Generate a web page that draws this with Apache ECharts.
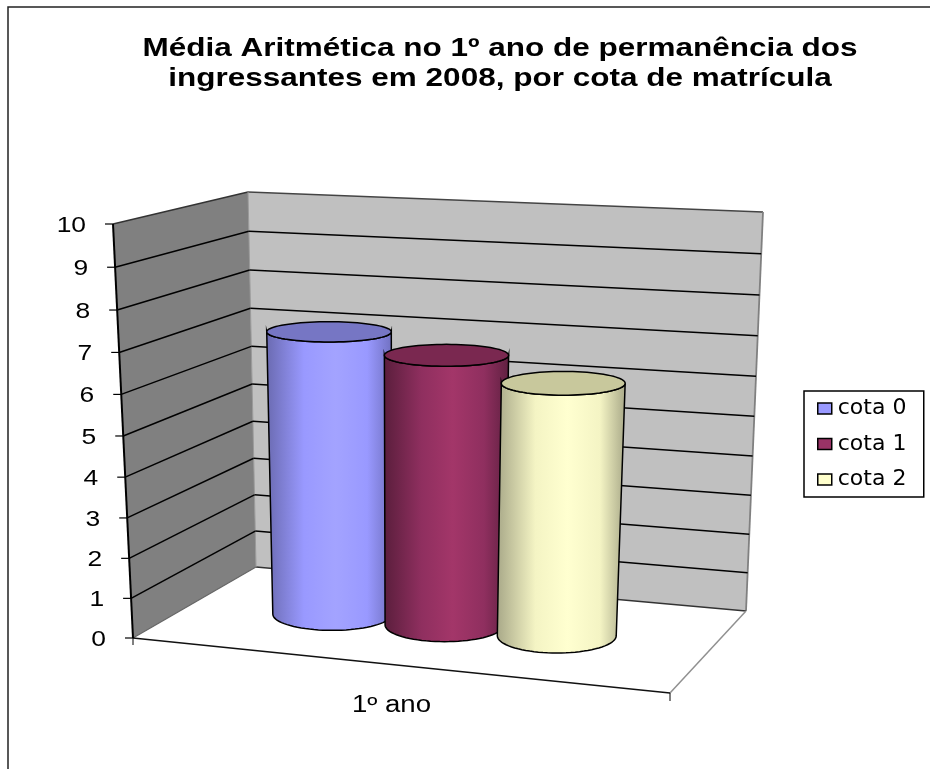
<!DOCTYPE html>
<html>
<head>
<meta charset="utf-8">
<style>html,body{margin:0;padding:0;background:#fff}#c{width:930px;height:769px}</style>
<script src="https://cdn.jsdelivr.net/npm/echarts@6/dist/echarts.min.js"></script>
</head>
<body>
<div id="c"></div>
<script>
const titleLines = ['Média Aritmética no 1º ano de permanência dos', 'ingressantes em 2008, por cota de matrícula'];
const categories = ['1º ano'];
const seriesNames = ['cota 0', 'cota 1', 'cota 2'];
const cota0 = [7.15];
const cota1 = [6.75];
const cota2 = [6.25];
const yTicks = [0, 1, 2, 3, 4, 5, 6, 7, 8, 9, 10];

// 3D box corners on the page, used only by the projection
const A = [133, 638], B = [670, 693], C = [256, 567], D = [746, 611];
const E = [113, 224], H = [695, 253], F = [248, 192], G = [763, 212];
const PERSP = 0.953;
const lerp = (a, b, t) => [a[0] + (b[0] - a[0]) * t, a[1] + (b[1] - a[1]) * t];
const bil = (p00, p10, p01, p11, u, d) => lerp(lerp(p00, p10, u), lerp(p01, p11, u), d);
const T = s => PERSP * s / (1 + (PERSP - 1) * s);
const P = (u, s, d) => lerp(bil(A, B, C, D, u, d), bil(E, H, F, G, u, d), T(s));

function frac(params, api, cat, val) {
  const g = params.coordSys, c = api.coord([cat, val]);
  return { u: (c[0] - g.x) / g.width, s: (g.y + g.height - c[1]) / g.height, band: api.size([1, 0])[0] / g.width };
}
const STRETCH = 1.2;
function label(text, x, y, size, align, weight) {
  return { type: 'text', x, y, scaleX: STRETCH, silent: true,
    style: { x: 0, y: 0, text, fill: '#000', align: align, verticalAlign: 'middle', textAlign: align, textVerticalAlign: 'middle',
      fontFamily: 'Liberation Sans', fontSize: size, fontWeight: weight || 'normal' } };
}

function renderWalls(params, api) {
  const line = (p, q, color, w) => ({ type: 'line', silent: true, shape: { x1: p[0], y1: p[1], x2: q[0], y2: q[1] }, style: { stroke: color, lineWidth: w } });
  const a = P(0, 0, 0), b = P(1, 0, 0), c = P(0, 0, 1), d = P(1, 0, 1), e = P(0, 1, 0), f = P(0, 1, 1), g = P(1, 1, 1);
  const xc = api.coord([0, 0]);
  return { type: 'group', children: [
    { type: 'polygon', silent: true, shape: { points: [a, b, d, c] }, style: { fill: '#fff' } },
    { type: 'polygon', silent: true, shape: { points: [f, g, d, c] }, style: { fill: '#c0c0c0' } },
    { type: 'polygon', silent: true, shape: { points: [e, f, c, a] }, style: { fill: '#808080' } },
    line(e, f, '#333', 1.3), line(f, g, '#444', 1.3), line(g, d, '#808080', 1.8), line(c, d, '#333', 1.3),
    line(f, c, '#999', 1), line(a, c, '#666', 1.2), line(b, d, '#909090', 1.5),
    line(a, b, '#111', 1.3), line(e, a, '#000', 2),
    line(a, [a[0], a[1] + 7], '#000', 1), line(b, [b[0], b[1] + 8], '#000', 1),
    label(categories[api.value(0)], xc[0] - 10, 706, 23, 'center')
  ] };
}

function renderTick(params, api) {
  const v = api.value(1), f = frac(params, api, 0, v);
  const s = f.s, p0 = P(0, s, 0), p1 = P(0, s, 1), p2 = P(1, s, 1);
  const line = (p, q, w) => ({ type: 'line', silent: true, shape: { x1: p[0], y1: p[1], x2: q[0], y2: q[1] }, style: { stroke: '#000', lineWidth: w } });
  const children = [ line([p0[0] - 8, p0[1]], p0, 1.2), label(String(v), p0[0] - 27, p0[1] + 2, 22, 'right') ];
  if (v > 0 && v < yTicks[yTicks.length - 1]) { children.push(line(p0, p1, 1.5), line(p1, p2, 1.5)); }
  return { type: 'group', children };
}

const BAR_STEP = 0.219, BAR_SHIFT = -0.017, BAR_DU = 0.116, BAR_DD = 0.22, BAR_D = 0.52;
function ellipsePts(c, rx, ry, from, to, n) {
  const pts = [];
  for (let i = 0; i <= n; i++) {
    const a = from + (to - from) * i / n;
    pts.push([c[0] + rx * Math.cos(a), c[1] + ry * Math.sin(a)]);
  }
  return pts;
}
function cylinderRenderer(index, stops, topColor) {
  return function (params, api) {
    const cat = api.value(0), f = frac(params, api, cat, api.value(1)), f0 = frac(params, api, cat, 0);
    const u = f.u + ((index - 1) * BAR_STEP + BAR_SHIFT) * f.band;
    const geo = s => {
      const c = P(u, s, BAR_D);
      return { c, rx: (P(u + BAR_DU, s, BAR_D)[0] - P(u - BAR_DU, s, BAR_D)[0]) / 2,
        ry: (P(u, s, BAR_D - BAR_DD)[1] - P(u, s, BAR_D + BAR_DD)[1]) / 2 };
    };
    const b = geo(f0.s), t = geo(f.s);
    const body = ellipsePts(b.c, b.rx, b.ry, Math.PI, 0, 40).concat(ellipsePts(t.c, t.rx, t.ry, 0, Math.PI, 40));
    return { type: 'group', children: [
      { type: 'polygon', shape: { points: body }, style: { stroke: '#000', lineWidth: 1.5,
        fill: { type: 'linear', x: 0, y: 0, x2: 1, y2: 0, colorStops: stops } } },
      { type: 'polygon', shape: { points: ellipsePts(t.c, t.rx, t.ry, 0, Math.PI * 2, 80) }, style: { fill: topColor, stroke: '#000', lineWidth: 1.5 } }
    ] };
  };
}
const gradient = (edgeL, mid, hi, edgeR) => [
  { offset: 0, color: edgeL }, { offset: 0.3, color: mid }, { offset: 0.55, color: hi }, { offset: 0.8, color: mid }, { offset: 1, color: edgeR }
];
const pairs = arr => arr.map((v, i) => [i, v]);
const cylinder = (name, idx, values, color, stops, topColor) => ({
  type: 'custom', name, data: pairs(values), encode: { x: 0, y: 1 }, itemStyle: { color },
  renderItem: cylinderRenderer(idx, stops, topColor), z: 5 + idx, clip: false
});
const titleText = (text, y) => ({ type: 'text', x: 500, y, scaleX: 1.26, silent: true, z: 20,
  style: { x: 0, y: 0, text, fill: '#000', textAlign: 'center', textVerticalAlign: 'middle', align: 'center', verticalAlign: 'middle',
    fontFamily: 'Liberation Sans', fontWeight: 'bold', fontSize: 25 } });

const chart = echarts.init(document.getElementById('c'));
chart.setOption({
  animation: false,
  backgroundColor: '#fff',
  grid: { left: 133, top: 224, width: 537, height: 414, containLabel: false },
  xAxis: { type: 'category', data: categories, axisLine: { show: false }, axisTick: { show: false }, axisLabel: { show: false } },
  yAxis: { type: 'value', min: 0, max: 10, interval: 1, axisLine: { show: false }, axisTick: { show: false }, axisLabel: { show: false }, splitLine: { show: false } },
  legend: {
    data: seriesNames, orient: 'vertical', left: 804, top: 391, icon: 'rect', itemWidth: 14, itemHeight: 11, itemGap: 10.5, padding: [5, 8, 5, 13],
    backgroundColor: '#fff', borderColor: '#000', borderWidth: 1.5, selectedMode: false,
    itemStyle: { borderColor: '#000', borderWidth: 1.5 },
    textStyle: { fontFamily: 'DejaVu Sans', fontSize: 22, color: '#000', width: 78, lineHeight: 22, padding: [3, 0, 0, 1] }
  },
  graphic: [
    { type: 'rect', silent: true, shape: { x: 8, y: 7, width: 960, height: 800 }, style: { fill: 'transparent', stroke: '#222', lineWidth: 1.5 }, z: 0 },
    titleText(titleLines[0], 49),
    titleText(titleLines[1], 79)
  ],
  series: [
    { type: 'custom', name: 'walls', data: pairs([0]), encode: { x: 0, y: 1 }, renderItem: renderWalls, z: 1, clip: false },
    { type: 'custom', name: 'ticks', data: yTicks.map(v => [0, v]), encode: { x: 0, y: 1 }, renderItem: renderTick, z: 2, clip: false },
    cylinder(seriesNames[0], 0, cota0, '#9999ff', gradient('#6a6ab0', '#9999ff', '#a3a3ff', '#7070c0'), '#7676c4'),
    cylinder(seriesNames[1], 1, cota1, '#993366', gradient('#5a1e3c', '#8f2f5f', '#a33669', '#5f2040'), '#7a2850'),
    cylinder(seriesNames[2], 2, cota2, '#ffffcc', gradient('#a8a888', '#f4f4c4', '#ffffd0', '#a8a888'), '#c8c89c')
  ]
});
</script>
</body>
</html>
